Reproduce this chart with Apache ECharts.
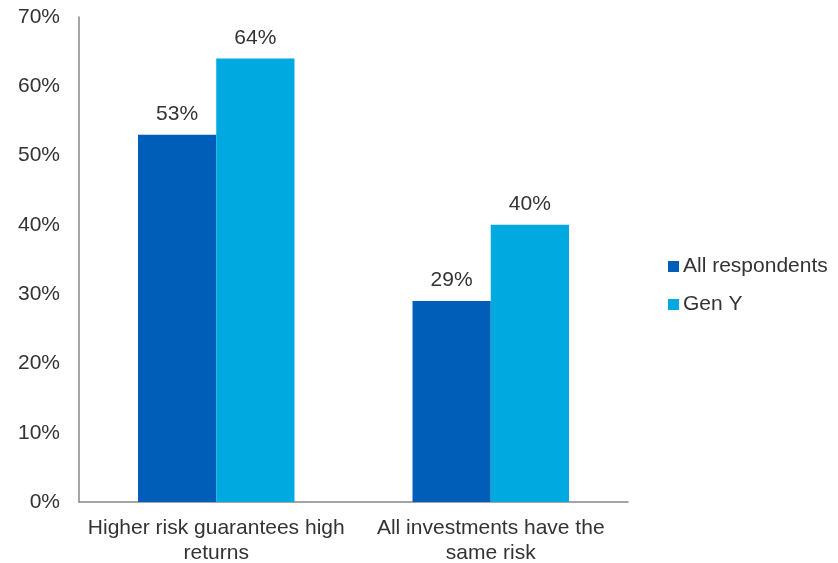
<!DOCTYPE html>
<html><head><meta charset="utf-8">
<script src="https://cdn.jsdelivr.net/npm/echarts@6/dist/echarts.min.js"></script>
<style>html,body{margin:0;padding:0;background:#fff}#c{width:838px;height:563px}</style>
</head><body><div id="c"></div>
<script>
var categories = ['Higher risk guarantees high\nreturns', 'All investments have the\nsame risk'];
var allRespondents = [53, 29];
var genY = [64, 40];
var seriesNames = ['All respondents', 'Gen Y'];
var yTicks = {min: 0, max: 70, interval: 10};

var chart = echarts.init(document.getElementById('c'));
var font = '"Liberation Sans", Arial, sans-serif';
var labelStyle = {show: true, position: 'top', formatter: '{c}%', color: '#333', fontSize: 21, fontFamily: font, distance: 10};
chart.setOption({
  animation: false,
  grid: {left: 79, right: 210, top: 17, bottom: 61, containLabel: false, outerBoundsMode: 'none'},
  legend: {
    orient: 'vertical', left: 668, top: 256, padding: 0, itemWidth: 11, itemHeight: 11, itemGap: 17,
    icon: 'rect',
    textStyle: {color: '#333', fontSize: 21, fontFamily: font, padding: [0, 0, 0, -1]},
    data: seriesNames
  },
  xAxis: {
    type: 'category', data: categories,
    axisLine: {lineStyle: {color: '#888', width: 1.5}},
    axisTick: {show: false},
    axisLabel: {interval: 0, color: '#333', fontSize: 21, fontFamily: font, lineHeight: 25, margin: 14}
  },
  yAxis: {
    type: 'value', min: yTicks.min, max: yTicks.max, interval: yTicks.interval,
    axisLine: {show: true, lineStyle: {color: '#888', width: 1.5}},
    axisTick: {show: false},
    splitLine: {show: false},
    axisLabel: {formatter: '{value}%', color: '#333', fontSize: 21, fontFamily: font, margin: 19}
  },
  series: [
    {name: seriesNames[0], type: 'bar', data: allRespondents, itemStyle: {color: '#005EB8'}, barGap: '0%', barCategoryGap: '43%', label: labelStyle},
    {name: seriesNames[1], type: 'bar', data: genY, itemStyle: {color: '#00A9E0'}, label: labelStyle}
  ]
});
</script></body></html>
